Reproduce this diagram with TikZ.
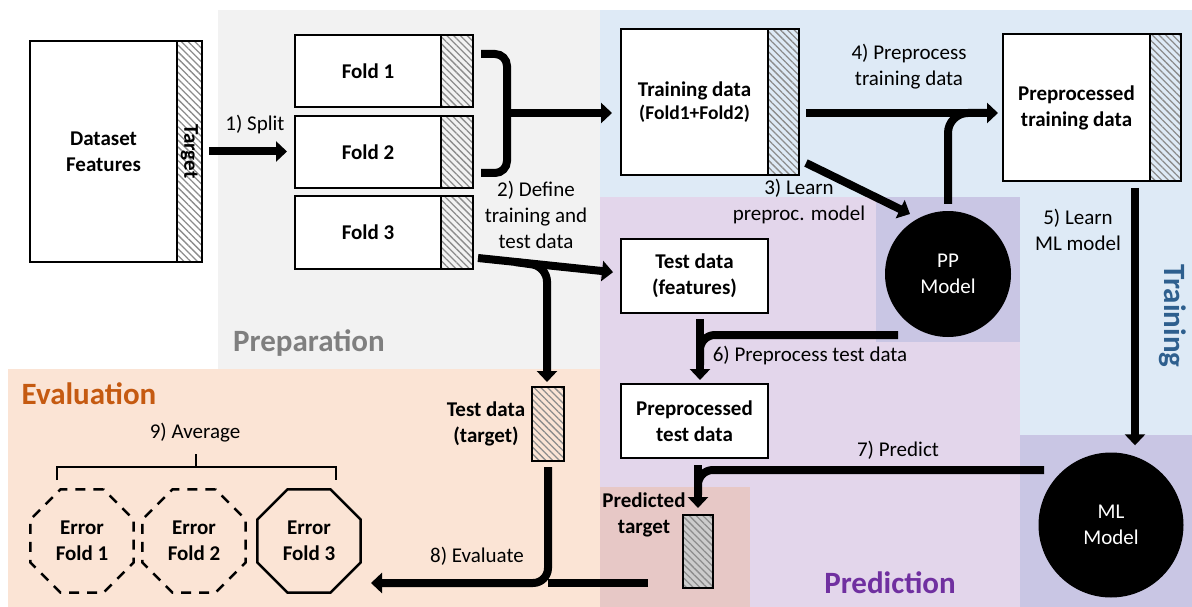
\documentclass[tikz,border=0pt]{standalone}
\usepackage{fontspec}
\setmainfont{Carlito}
\usetikzlibrary{arrows.meta,patterns.meta,shapes.geometric}
\definecolor{prepbg}{HTML}{F2F2F2}
\definecolor{evalbg}{HTML}{FBE4D5}
\definecolor{trainbg}{HTML}{DEEAF6}
\definecolor{predbg}{HTML}{E3D6EB}
\definecolor{modbg}{HTML}{C9C6E4}
\definecolor{redbg}{HTML}{E7C8C6}
\definecolor{prepfg}{HTML}{7F7F7F}
\definecolor{evalfg}{HTML}{C55A11}
\definecolor{predfg}{HTML}{7030A0}
\definecolor{trainfg}{HTML}{2E5F8E}
\definecolor{hatchc}{HTML}{8C8C8C}
\tikzset{
  wbox/.style={draw, line width=2.5pt, fill=white, align=center, inner sep=0pt, outer sep=0pt,
    font=\fontsize{21}{26}\selectfont\bfseries},
  hatchstrip/.style={draw, line width=2.5pt, inner sep=0pt, outer sep=0pt,
    pattern={Lines[angle=-45,distance=4.8pt,line width=1.3pt]}, pattern color=hatchc},
  lbl/.style={align=center, inner sep=0pt, font=\fontsize{21}{26}\selectfont},
  blbl/.style={align=center, inner sep=0pt, font=\fontsize{21}{26}\selectfont\bfseries},
  region/.style={align=center, inner sep=0pt, font=\fontsize{31}{36}\selectfont\bfseries},
  flow/.style={line width=8pt},
  arr/.style={line width=8pt, -{Triangle[length=11pt,width=20pt]}},
  model/.style={circle, fill=black, text=white, align=center, inner sep=0pt,
    font=\fontsize{21}{26}\selectfont},
  errbox/.style={regular polygon, regular polygon sides=8, minimum size=112pt, line width=2.5pt,
    draw, align=center, inner sep=0pt, font=\fontsize{21}{26}\selectfont\bfseries},
}
\begin{document}
\begin{tikzpicture}[x=1pt,y=-1pt]
\useasboundingbox (0,0) rectangle (1192,607);
% ---------- backgrounds
\fill[white] (0,0) rectangle (1192,607);
\fill[prepbg] (218,10) rectangle (600,369);
\fill[evalbg] (8,369) rectangle (600,607);
\fill[trainbg] (600,10) rectangle (1192,435);
\fill[predbg] (600,197) rectangle (1020,607);
\fill[modbg] (876,197) rectangle (1020,342);
\fill[modbg] (1020,435) rectangle (1192,607);
\fill[redbg] (600,487) rectangle (750,607);
% ---------- region titles
\node[region, text=prepfg] (tprep) at (309,343) {Preparation};
\node[region, text=evalfg] (teval) at (89,394) {Evaluation};
\node[region, text=predfg] (tpred) at (890,583) {Prediction};
\node[region, text=trainfg, rotate=-90] (ttrain) at (1173,316) {Training};
% ---------- dataset
\node[wbox, minimum width=147pt, minimum height=221pt] (ds) at (103.5,151.5) {Dataset\\Features};
\node[hatchstrip, minimum width=25pt, minimum height=221pt] (dss) at (189.5,151.5) {};
\node[blbl, rotate=-90] (dsl) at (dss.center) {Target};
% ---------- folds
\node[wbox, minimum width=146pt, minimum height=72pt] (f1) at (368,71) {Fold 1};
\node[hatchstrip, minimum width=32pt, minimum height=72pt] (f1s) at (457,71) {};
\node[wbox, minimum width=146pt, minimum height=72pt] (f2) at (368,152) {Fold 2};
\node[hatchstrip, minimum width=32pt, minimum height=72pt] (f2s) at (457,152) {};
\node[wbox, minimum width=146pt, minimum height=73pt] (f3) at (368,232.5) {Fold 3};
\node[hatchstrip, minimum width=32pt, minimum height=73pt] (f3s) at (457,232.5) {};
% ---------- training data
\node[wbox, minimum width=147pt, minimum height=146pt] (tr) at (694.5,102)
  {Training data\\[-3pt]{\fontsize{19.5}{23}\selectfont(Fold1+Fold2)}};
\node[hatchstrip, minimum width=31pt, minimum height=146pt] (trs) at (783.5,102) {};
% ---------- preprocessed training data
\node[wbox, minimum width=147pt, minimum height=147pt] (ptr) at (1076.5,107.5) {Preprocessed\\training data};
\node[hatchstrip, minimum width=31pt, minimum height=147pt] (ptrs) at (1165.5,107.5) {};
% ---------- test data
\node[wbox, minimum width=147pt, minimum height=74pt] (tdf) at (694.5,276) {Test data\\(features)};
\node[wbox, minimum width=147pt, minimum height=74pt] (ptd) at (694.5,421) {Preprocessed\\test data};
\node[hatchstrip, minimum width=32pt, minimum height=74pt] (tdt) at (548,424) {};
\node[blbl] (tdtl) at (486,424) {Test data\\(target)};
\node[hatchstrip, preaction={fill=gray!40}, minimum width=30pt, minimum height=73pt] (pt) at (698,551.5) {};
\node[blbl] (ptl) at (644,515) {Predicted\\target};
% ---------- models
\node[model, minimum size=126pt] (pp) at (948,274) {PP\\Model};
\node[model, minimum size=145pt] (ml) at (1111,525) {ML\\Model};
% ---------- errors
\node[errbox, dash pattern=on 10pt off 8pt] (e1) at (82,541) {Error\\Fold 1};
\node[errbox, dash pattern=on 10pt off 8pt] (e2) at (194,541) {Error\\Fold 2};
\node[errbox] (e3) at (309,541) {Error\\Fold 3};
% ---------- labels
\node[lbl] (l1) at (255,125) {1) Split};
\node[lbl] (l2) at (536,215) {2) Define\\training and\\test data};
\node[lbl] (l3) at (799,202) {3) Learn\\preproc. model};
\node[lbl] (l4) at (909,67) {4) Preprocess\\training data};
\node[lbl] (l5) at (1078,229.5) {5) Learn\\ML model};
\node[lbl] (l6) at (810,356) {6) Preprocess test data};
\node[lbl] (l7) at (898,450) {7) Predict};
\node[lbl] (l8) at (477,556) {8) Evaluate};
\node[lbl] (l9) at (195,433) {9) Average};
% ---------- coordinates for connector ends
\coordinate (b1) at (481,54);
\coordinate (b2) at (507,54);
\coordinate (b3) at (507,173);
\coordinate (b4) at (481,173);
\coordinate (bm) at (507,113);
\coordinate (a3s) at (806,163);
\coordinate (a3e) at (910,214);
\coordinate (f3o) at (478,258);
\coordinate (f3j) at (515,262);
\coordinate (f3k) at (547,266.5);
\coordinate (a5s) at (1135,188);
\coordinate (a6s) at (898,335);
\coordinate (a7s) at (1044,470);
\coordinate (a8s) at (648,583);
% ---------- connectors
\draw[arr] ([xshift=7pt]dss.east) -- ([xshift=-8pt]f2.west |- dss.east);
\draw[flow, rounded corners=12pt] (b1) -- (b2) -- (b3) -- (b4);
\draw[arr, shorten >=9pt] (bm) -- (bm -| tr.west);
\draw[arr, shorten <=7pt, shorten >=5pt] (trs.east |- bm) -- (bm -| ptr.west);
\draw[flow, rounded corners=20pt] ([yshift=7pt]pp.north) -- (pp.north |- bm) -- ++(40,0);
\draw[arr] (a3s) -- (a3e);
\draw[arr, shorten >=7pt] (a5s) -- (a5s |- ml.north);
\draw[arr, shorten >=8pt] (f3o) -- (tdf.west |- 0,273);
\draw[arr, rounded corners=15pt, shorten >=5pt] (f3j) -- (f3k) -- (f3k |- tdt.north);
\draw[arr, shorten <=6pt, shorten >=4pt] (tdf.south -| 700,0) -- (ptd.north -| 700,0);
\draw[flow, rounded corners=15pt] (a6s) -- (a6s -| 700,0) -- (700,365);
\draw[arr, shorten <=7pt, shorten >=7pt] (ptd.south -| pt.north) -- (pt.north);
\draw[flow, rounded corners=15pt] (a7s) -- (a7s -| pt.north) -- ([yshift=-25pt]a7s -| pt.north);
\draw[arr, rounded corners=15pt, shorten <=6pt, shorten >=9pt] (tdt.south) -- (tdt.south |- a8s) -- (e3.east |- a8s);
\draw[flow] (a8s) -- (tdt.south |- a8s);
% ---------- average bracket
\draw[line width=2.5pt] (57,480) -- (57,467) -- (336,467) -- (336,480);
\draw[line width=2.5pt] (196,467) -- (196,454);
\end{tikzpicture}
\end{document}
